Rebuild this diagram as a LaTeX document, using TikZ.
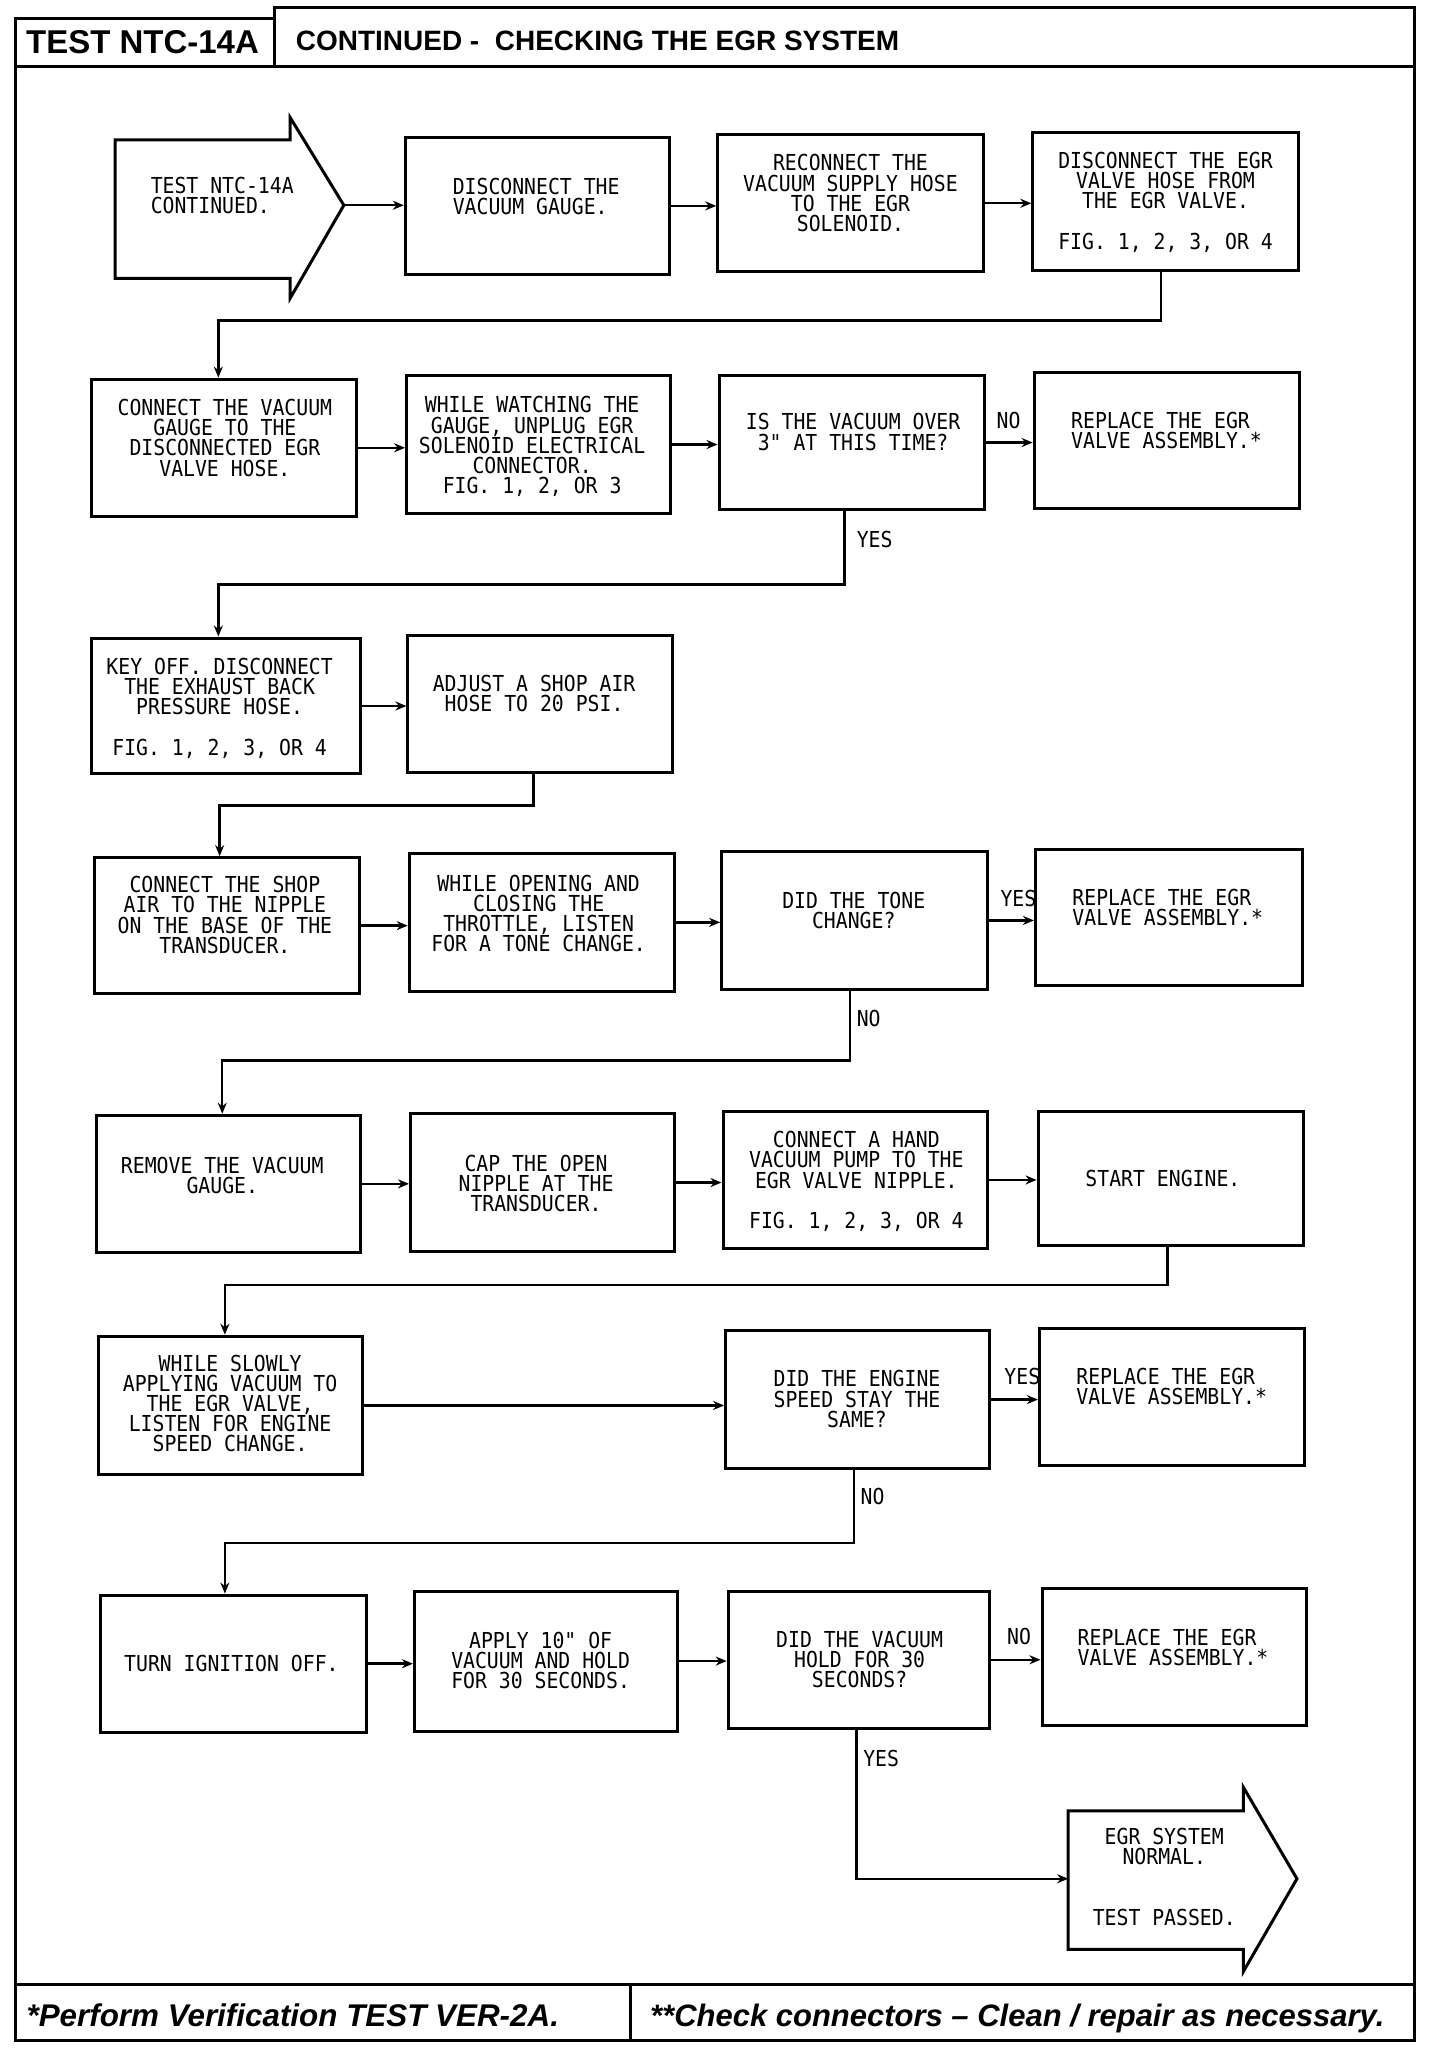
\documentclass[tikz,border=0pt]{standalone}
\usepackage{fontspec}
\setmainfont{Liberation Sans}
\newfontfamily\plotfont[FakeStretch=0.9]{DejaVu Sans Mono}
\usetikzlibrary{fit,arrows.meta}
\tikzset{
  boxst/.style={draw, line width=1.5pt, inner sep=0pt},
  txt/.style={font=\plotfont\fontsize{11}{10.1}\selectfont, align=center, inner sep=0pt, anchor=north},
  txtl/.style={txt, align=left, anchor=north west},
  lbl/.style={font=\plotfont\fontsize{11}{10.1}\selectfont, inner sep=0pt, anchor=west},
  conn/.style={line width=1.2pt},
  arr/.style={conn, -{Stealth[length=5.5pt,width=4.5pt]}},
  framest/.style={line width=1.6pt},
  headst/.style={font=\bfseries\fontsize{16.5}{18}\selectfont, inner sep=0pt},
  footst/.style={font=\bfseries\itshape\fontsize{15.7}{18}\selectfont, inner sep=0pt, anchor=base west}
}
\newcommand\mkbox[5]{\node[boxst, fit={(#2,#3) (#4,#5)}] (#1) {};}
\begin{document}
\begin{tikzpicture}[x=0.654pt,y=-0.654pt]
\useasboundingbox (0,0) rectangle (1101,1568);
% frame
\draw[framest] (12,14) -- (210,14) -- (210,6) -- (1082,6) -- (1082,1561) -- (12,1561) -- cycle;
\draw[framest] (210,6) -- (210,51);
\draw[framest] (12,51) -- (1082,51);
\draw[framest] (12,1518) -- (1082,1518);
\draw[framest] (482,1518) -- (482,1561);
\node[headst, anchor=base] (h1) at (109,41) {TEST NTC-14A};
\node[headst, anchor=base west, font=\bfseries\fontsize{14}{16}\selectfont] (h2) at (226,38.5) {CONTINUED - \ CHECKING THE EGR SYSTEM};
\node[footst] (f1) at (20,1550) {*Perform Verification TEST VER-2A.};
\node[footst, font=\bfseries\itshape\fontsize{15.5}{18}\selectfont] (f2) at (497,1550) {**Check connectors – Clean / repair as necessary.};

% start arrow
\draw[line width=1.5pt] (88,107) -- (222,107) -- (222,90) -- (263,157) -- (222,228) -- (222,213) -- (88,213) -- cycle;
\coordinate (stip) at (263,157);
\node[txtl] (t1) at (115,135) {TEST NTC-14A\\CONTINUED.};

% end arrow
\draw[line width=1.5pt] (817,1385) -- (951,1385) -- (951,1367) -- (992,1437) -- (951,1508) -- (951,1491) -- (817,1491) -- cycle;
\coordinate (ein) at (817,1437);
\node[txt] (te) at (890.5,1398) {EGR SYSTEM\\NORMAL.\\[20.2pt]TEST PASSED.};

% boxes
\mkbox{b2}{310}{105}{512}{210}
\mkbox{b3}{549}{103}{752}{208}
\mkbox{b4}{790}{101}{993}{207}
\mkbox{b5}{70}{290}{273}{395}
\mkbox{b6}{311}{287}{513}{393}
\mkbox{b7}{550}{287}{753}{390}
\mkbox{b8}{791}{285}{994}{389}
\mkbox{b9}{70}{488}{276}{592}
\mkbox{b10}{312}{486}{514}{591}
\mkbox{b11}{72}{656}{275}{760}
\mkbox{b12}{313}{653}{516}{758}
\mkbox{b13}{552}{651}{755}{757}
\mkbox{b14}{792}{650}{996}{754}
\mkbox{b15}{74}{853}{276}{958}
\mkbox{b16}{314}{852}{516}{957}
\mkbox{b17}{553}{850}{755}{955}
\mkbox{b18}{794}{850}{997}{953}
\mkbox{b19}{75}{1022}{277}{1128}
\mkbox{b20}{555}{1018}{757}{1123}
\mkbox{b21}{795}{1016}{998}{1121}
\mkbox{b22}{77}{1220}{280}{1325}
\mkbox{b23}{317}{1217}{518}{1324}
\mkbox{b24}{557}{1217}{757}{1322}
\mkbox{b25}{797}{1215}{999}{1320}

% texts
\node[txtl] (t2) at (346,136) {DISCONNECT THE\\VACUUM GAUGE.};
\node[txt] (t3) at (650.5,118) {RECONNECT THE\\VACUUM SUPPLY HOSE\\TO THE EGR\\SOLENOID.};
\node[txt] (t4) at (891.5,116) {DISCONNECT THE EGR\\VALVE HOSE FROM\\THE EGR VALVE.\\[10.1pt]FIG. 1, 2, 3, OR 4};
\node[txt] (t5) at (172,305) {CONNECT THE VACUUM\\GAUGE TO THE\\DISCONNECTED EGR\\VALVE HOSE.};
\node[txt] (t6) at (407,303) {WHILE WATCHING THE\\GAUGE, UNPLUG EGR\\SOLENOID ELECTRICAL\\CONNECTOR.\\FIG. 1, 2, OR 3};
\node[txt] (t7) at (652.5,316) {IS THE VACUUM OVER\\3" AT THIS TIME?};
\node[txtl] (t8) at (819,315) {REPLACE THE EGR\\VALVE ASSEMBLY.*};
\node[txt] (t9) at (168,503) {KEY OFF. DISCONNECT\\THE EXHAUST BACK\\PRESSURE HOSE.\\[10.1pt]FIG. 1, 2, 3, OR 4};
\node[txt] (t10) at (408.5,516) {ADJUST A SHOP AIR\\HOSE TO 20 PSI.};
\node[txt] (t11) at (172,670) {CONNECT THE SHOP\\AIR TO THE NIPPLE\\ON THE BASE OF THE\\TRANSDUCER.};
\node[txt] (t12) at (412,669) {WHILE OPENING AND\\CLOSING THE\\THROTTLE, LISTEN\\FOR A TONE CHANGE.};
\node[txt] (t13) at (653,682) {DID THE TONE\\CHANGE?};
\node[txtl] (t14) at (820,680) {REPLACE THE EGR\\VALVE ASSEMBLY.*};
\node[txt] (t15) at (170,885) {REMOVE THE VACUUM\\GAUGE.};
\node[txt] (t16) at (410,883) {CAP THE OPEN\\NIPPLE AT THE\\TRANSDUCER.};
\node[txt] (t17) at (655,865) {CONNECT A HAND\\VACUUM PUMP TO THE\\EGR VALVE NIPPLE.\\[10.1pt]FIG. 1, 2, 3, OR 4};
\node[txt] (t18) at (889.5,895) {START ENGINE.};
\node[txt] (t19) at (176,1036) {WHILE SLOWLY\\APPLYING VACUUM TO\\THE EGR VALVE,\\LISTEN FOR ENGINE\\SPEED CHANGE.};
\node[txt] (t20) at (655.5,1048) {DID THE ENGINE\\SPEED STAY THE\\SAME?};
\node[txtl] (t21) at (823,1046) {REPLACE THE EGR\\VALVE ASSEMBLY.*};
\node[txt] (t22) at (177,1266) {TURN IGNITION OFF.};
\node[txt] (t23) at (413.5,1248) {APPLY 10" OF\\VACUUM AND HOLD\\FOR 30 SECONDS.};
\node[txt] (t24) at (657.5,1247) {DID THE VACUUM\\HOLD FOR 30\\SECONDS?};
\node[txtl] (t25) at (824,1246) {REPLACE THE EGR\\VALVE ASSEMBLY.*};

% labels
\node[lbl] (l1) at (762,322) {NO};
\node[lbl] (l2) at (655,413) {YES};
\node[lbl] (l3) at (765,687) {YES};
\node[lbl] (l4) at (655,779) {NO};
\node[lbl] (l5) at (768,1053) {YES};
\node[lbl] (l6) at (658,1145) {NO};
\node[lbl] (l7) at (770,1252) {NO};
\node[lbl] (l8) at (660,1345) {YES};

% horizontal connectors
\draw[arr] (stip) -- (stip -| b2.west);
\draw[arr] (b2.east) -- (b2.east -| b3.west);
\draw[arr] (b3.east) -- (b3.east -| b4.west);
\draw[arr] (b5.east) -- (b5.east -| b6.west);
\draw[arr] (b6.east) -- (b6.east -| b7.west);
\draw[arr] (b7.east) -- (b7.east -| b8.west);
\draw[arr] (b9.east) -- (b9.east -| b10.west);
\draw[arr] (b11.east) -- (b11.east -| b12.west);
\draw[arr] (b12.east) -- (b12.east -| b13.west);
\draw[arr] (b13.east) -- (b13.east -| b14.west);
\draw[arr] (b15.east) -- (b15.east -| b16.west);
\draw[arr] (b16.east) -- (b16.east -| b17.west);
\draw[arr] (b17.east) -- (b17.east -| b18.west);
\draw[arr] (b19.east) -- (b19.east -| b20.west);
\draw[arr] (b20.east) -- (b20.east -| b21.west);
\draw[arr] (b22.east) -- (b22.east -| b23.west);
\draw[arr] (b23.east) -- (b23.east -| b24.west);
\draw[arr] (b24.east) -- (b24.east -| b25.west);

% routed connectors
\coordinate (k1a) at (888,245); \coordinate (k1b) at (167,245);
\draw[arr] (b4.south -| k1a) -- (k1a) -- (k1b) -- (k1b |- b5.north);
\coordinate (k2a) at (646,447); \coordinate (k2b) at (167,447);
\draw[arr] (b7.south -| k2a) -- (k2a) -- (k2b) -- (k2b |- b9.north);
\coordinate (k3a) at (408,616); \coordinate (k3b) at (168,616);
\draw[arr] (b10.south -| k3a) -- (k3a) -- (k3b) -- (k3b |- b11.north);
\coordinate (k4a) at (650,811); \coordinate (k4b) at (170,811);
\draw[arr] (b13.south -| k4a) -- (k4a) -- (k4b) -- (k4b |- b15.north);
\coordinate (k5a) at (893,983); \coordinate (k5b) at (172,983);
\draw[arr] (b18.south -| k5a) -- (k5a) -- (k5b) -- (k5b |- b19.north);
\coordinate (k6a) at (653,1180); \coordinate (k6b) at (172,1180);
\draw[arr] (b20.south -| k6a) -- (k6a) -- (k6b) -- (k6b |- b22.north);
\coordinate (k7a) at (655,1437);
\draw[arr] (b24.south -| k7a) -- (k7a) -- (ein);
\end{tikzpicture}
\end{document}
